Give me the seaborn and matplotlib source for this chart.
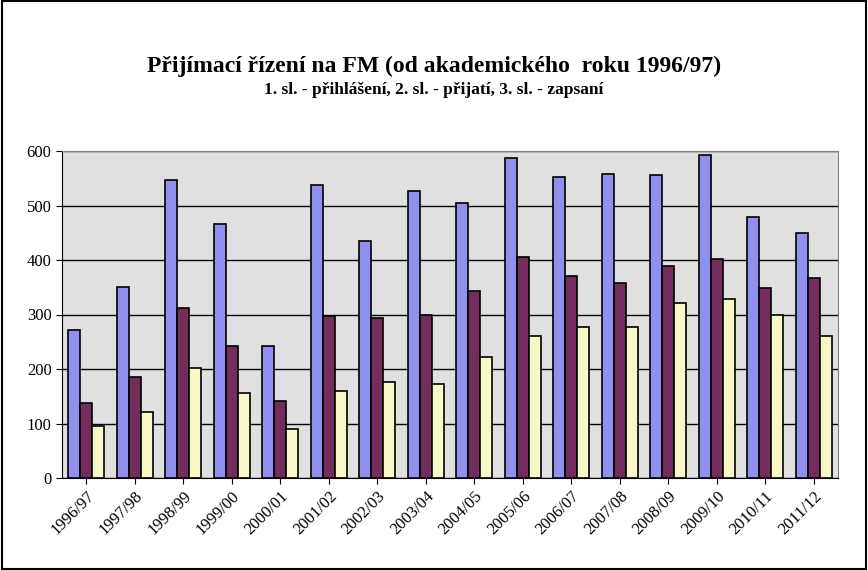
import matplotlib
matplotlib.use("Agg")
import matplotlib.pyplot as plt
import seaborn as sns
import pandas as pd
from matplotlib.patches import Rectangle

years = ["1996/97","1997/98","1998/99","1999/00","2000/01","2001/02","2002/03","2003/04",
         "2004/05","2005/06","2006/07","2007/08","2008/09","2009/10","2010/11","2011/12"]
prihlaseni = [271,350,547,466,242,538,435,527,505,587,552,558,556,593,479,450]
prijati = [137,185,312,242,141,298,294,299,343,405,371,358,389,402,349,367]
zapsani = [95,122,202,156,90,160,176,173,222,261,277,277,322,328,300,261]
series = ["přihlášení","přijatí","zapsaní"]
colors = ["#8080FF","#802060","#FFFFC0"]

df = pd.DataFrame({"rok": years*3,
                   "sl": [series[0]]*16+[series[1]]*16+[series[2]]*16,
                   "v": prihlaseni+prijati+zapsani})

plt.rcParams["font.family"] = "Liberation Serif"
fig = plt.figure(figsize=(8.68,5.7), dpi=100)
ax = fig.add_axes([62/868, 1-478/570, (838-62)/868, (478-151)/570])
sns.barplot(data=df, x="rok", y="v", hue="sl", palette=colors, ax=ax,
            width=0.75, edgecolor="black", linewidth=1.2, legend=False)
ax.set_facecolor("#E0E0E0")
ax.set_ylim(0,600)
ax.set_yticks(range(0,601,100))
ax.grid(axis="y", color="black", linewidth=1)
ax.set_axisbelow(True)
ax.set_xlim(-0.5,15.5)
ax.set_xlabel(""); ax.set_ylabel("")
for s in ["top","right"]:
    ax.spines[s].set_color("#808080")
ax.spines["left"].set_color("black"); ax.spines["bottom"].set_color("black")
ax.tick_params(axis="both", labelsize=12, length=4, direction="out")
ax.set_xticks([i for i in range(16)])
ax.set_xticklabels(years, rotation=45, ha="right", rotation_mode="anchor")
fig.text(0.5, 1-66/570, "Přijímací řízení na FM (od akademického  roku 1996/97)",
         ha="center", va="center", fontsize=17, fontweight="bold")
fig.text(0.5, 1-90/570, "1. sl. - přihlášení, 2. sl. - přijatí, 3. sl. - zapsaní",
         ha="center", va="center", fontsize=12.5, fontweight="bold")
fig.patches.append(Rectangle((0.002,0.002),0.996,0.996, transform=fig.transFigure,
                             fill=False, edgecolor="black", linewidth=1.5))
fig.savefig("out.png", dpi=100)
